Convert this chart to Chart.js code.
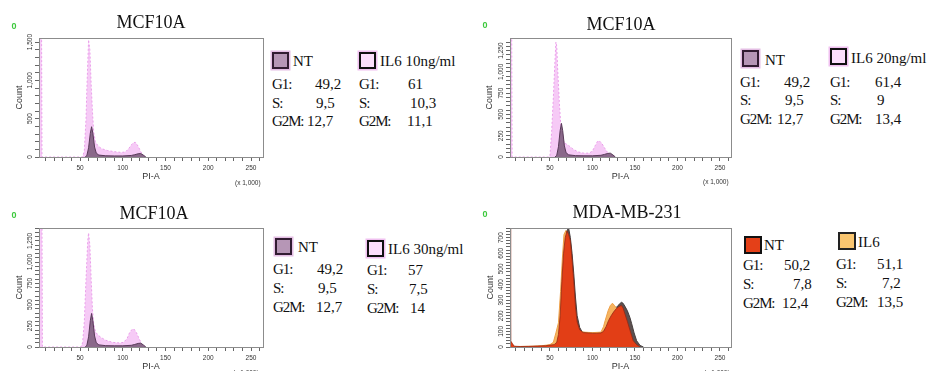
<!DOCTYPE html>
<html>
<head>
<meta charset="utf-8">
<script src="https://cdn.jsdelivr.net/npm/chart.js@4.4.1/dist/chart.umd.min.js"></script>
<style>
  html, body { margin: 0; padding: 0; background: #fff; overflow: hidden; }
  body { width: 928px; height: 371px; position: relative; font-family: "Liberation Serif", "Times New Roman", serif; }
  canvas { position: absolute; }
  .t { position: absolute; white-space: nowrap; color: #111; }
  .title { font-size: 18px; line-height: 22px; transform: translateX(-50%); }
  .leg { font-size: 15px; line-height: 20px; }
  .phase { letter-spacing: -1.1px; }
  .zero { font: bold 9px "Liberation Sans", Arial, sans-serif; line-height: 10px; color: #3cc83c; transform: translateX(-50%); }
  .unit { font: 6.5px "Liberation Sans", Arial, sans-serif; line-height: 8px; color: #333; }
  .sw { position: absolute; box-sizing: border-box; border: 2.5px solid #111; }
</style>
</head>
<body>
<canvas id="p1" width="270" height="160" style="left:0;top:28px"></canvas>
<canvas id="p2" width="270" height="160" style="left:470px;top:28px"></canvas>
<canvas id="p3" width="270" height="160" style="left:0;top:218px"></canvas>
<canvas id="p4" width="270" height="160" style="left:470px;top:218px"></canvas>
<script>
// PI-A bins (x 1,000) and event counts per histogram

// MCF10A untreated (same control in the three MCF10A panels)
const mcfNtX = [56, 58, 60, 62, 63.5, 65, 67, 69, 72, 80, 90, 100, 110, 114, 118, 121, 124, 127];
const mcfNtY = [0, 20, 120, 310, 395, 310, 130, 50, 25, 16, 14, 14, 20, 30, 42, 45, 25, 0];

// MCF10A + IL6 10ng/ml
const il6_10X = [2, 5, 5.5, 53, 55, 57, 58, 60, 61.5, 63, 64.5, 66, 68, 71, 75, 82, 90, 98, 103, 107, 110, 113, 115, 118, 121, 124, 126];
const il6_10Y = [1700, 1700, 0, 0, 80, 500, 900, 1530, 1400, 950, 600, 320, 200, 145, 110, 85, 70, 60, 65, 110, 160, 190, 190, 140, 70, 20, 0];

// MCF10A + IL6 20ng/ml
const il6_20X = [3, 5, 5.5, 49, 50, 52, 54, 56, 57, 58, 59, 61, 63, 65, 68, 72, 77, 83, 90, 96, 100, 103, 106, 108, 111, 115, 119, 123];
const il6_20Y = [1500, 1500, 0, 0, 10, 300, 700, 1150, 1350, 1300, 1050, 650, 330, 210, 160, 135, 95, 60, 45, 45, 70, 130, 185, 190, 160, 95, 35, 0];

// MCF10A + IL6 30ng/ml
const il6_30X = [2, 5.5, 6, 51, 53, 55, 57, 59, 60, 61.5, 63, 64.5, 66, 68, 71, 75, 80, 88, 96, 101, 105, 108, 111, 113, 116, 119, 122, 126];
const il6_30Y = [1500, 1500, 0, 0, 50, 300, 800, 1250, 1345, 1200, 800, 450, 270, 180, 140, 110, 80, 55, 48, 55, 100, 170, 210, 212, 170, 100, 40, 0];

// MDA-MB-231 untreated
const mdaNtX = [3, 3.5, 4, 6, 8, 15, 25, 35, 45, 50, 55, 58, 60, 62, 64, 66, 68, 70, 72, 74, 76, 78, 80, 82, 85, 89, 95, 100, 105, 110, 113, 116, 119, 122, 125, 128, 131, 134, 136, 138, 141, 144, 146, 148, 152, 156];
const mdaNtY = [800, 800, 40, 20, 5, 3, 4, 6, 8, 12, 15, 30, 80, 200, 420, 600, 700, 742, 720, 680, 560, 420, 260, 160, 110, 92, 90, 88, 88, 90, 100, 130, 170, 200, 225, 245, 258, 266, 250, 215, 165, 110, 75, 40, 15, 0];

// MDA-MB-231, dark overlay visible behind the untreated trace
const mdaDarkX = [56, 60, 64, 67, 70, 72, 74, 76, 78, 80, 82, 85, 88, 95, 105, 112, 115, 118, 122, 126, 130, 134, 136, 138, 141, 144, 146, 149, 152, 156, 160];
const mdaDarkY = [0, 40, 300, 580, 745, 760, 700, 600, 470, 320, 200, 125, 95, 90, 88, 92, 110, 150, 205, 240, 265, 286, 280, 262, 233, 190, 152, 90, 40, 10, 0];

// MDA-MB-231 + IL6
const mdaIl6X = [3, 4, 6, 10, 20, 30, 40, 46, 50, 54, 57, 60, 62.5, 64.5, 66.5, 68.8, 70, 72, 74, 76, 78, 80, 82, 85, 90, 100, 110, 113, 115, 118.5, 121, 123.5, 126, 130, 134, 138, 142, 146, 150, 154];
const mdaIl6Y = [30, 20, 5, 3, 4, 5, 8, 12, 15, 30, 90, 155, 355, 558, 720, 745, 730, 650, 540, 420, 290, 180, 120, 100, 95, 92, 95, 130, 170, 233, 265, 280, 265, 235, 200, 150, 95, 45, 15, 0];

// axis ticks
const xTickVals = [10, 20, 30, 40, 50, 60, 70, 80, 90, 100, 110, 120, 130, 140, 150, 160, 170, 180, 190, 200, 210, 220, 230, 240, 250, 260];
const xLabels = [50, 100, 150, 200, 250];
const yLabels1500 = [0, 500, 1000, 1500];
const yLabels1250 = [0, 250, 500, 750, 1000, 1250];
const yLabels700 = [0, 100, 200, 300, 400, 500, 600, 700];

// legend content
const panelTitles = ['MCF10A', 'MCF10A', 'MCF10A', 'MDA-MB-231'];
const phases = ['G1:', 'S:', 'G2M:'];
const groupNames = ['NT', 'IL6 10ng/ml', 'IL6 20ng/ml', 'IL6 30ng/ml', 'IL6'];
const mcfNtPct = [49.2, 9.5, 12.7];
const il6_10Pct = [61, 10.3, 11.1];
const il6_20Pct = [61.4, 9, 13.4];
const il6_30Pct = [57, 7.5, 14];
const mdaNtPct = [50.2, 7.8, 12.4];
const mdaIl6Pct = [51.1, 7.2, 13.5];

const SANS = '"Liberation Sans", Arial, sans-serif';

const pinkFill = 'rgb(246,202,246)', pinkLine = 'rgb(234,160,234)';
const mauveFill = 'rgb(138,104,138)', mauveLine = 'rgb(88,58,88)';
const redFill = 'rgb(226,62,22)', redLine = 'rgb(150,40,20)';
const orangeFill = 'rgb(246,180,96)', orangeLine = 'rgb(238,160,72)';
const darkFill = 'rgb(92,80,80)', darkLine = 'rgb(70,62,62)';

function series(xs, ys) {
  return xs.map((x, i) => ({ x: x, y: ys[i] }));
}

function fmt(v) {
  return String(v).replace('.', ',');
}

// frame round the plot area plus rotated count labels
const facsAxes = {
  id: 'facsAxes',
  afterDraw(chart, args, opts) {
    const { ctx, chartArea: a } = chart;
    const y = chart.scales.y;
    ctx.save();
    ctx.strokeStyle = '#8c8c8c';
    ctx.lineWidth = 1;
    ctx.strokeRect(Math.round(a.left) + 0.5, Math.round(a.top) + 0.5, Math.round(a.right - a.left), Math.round(a.bottom - a.top));
    ctx.fillStyle = '#333';
    ctx.font = '6.5px ' + SANS;
    ctx.textAlign = 'center';
    ctx.textBaseline = 'middle';
    opts.values.forEach(v => {
      ctx.save();
      ctx.translate(a.left - 8.5, y.getPixelForValue(v));
      ctx.rotate(-Math.PI / 2);
      ctx.fillText(v.toLocaleString('en-US'), 0, 0);
      ctx.restore();
    });
    ctx.restore();
  }
};

function histPanel(id, sets, opt) {
  const tickGrid = { drawOnChartArea: false, drawTicks: true, tickLength: 4, color: '#666', lineWidth: 1 };
  return new Chart(document.getElementById(id), {
    type: 'line',
    data: {
      datasets: sets.map(s => ({
        data: s.data,
        fill: 'origin',
        backgroundColor: s.fill,
        borderColor: s.line,
        borderWidth: s.width || 1,
        borderDash: s.dash || [],
        pointRadius: 0,
        tension: 0
      }))
    },
    options: {
      responsive: false,
      animation: false,
      layout: { padding: { top: opt.padTop, right: opt.padRight, left: 0, bottom: 0 } },
      plugins: {
        legend: { display: false },
        tooltip: { enabled: false },
        facsAxes: { values: opt.yLabels }
      },
      scales: {
        x: {
          type: 'linear',
          min: opt.xMin,
          max: opt.xMax,
          afterBuildTicks: s => { s.ticks = xTickVals.map(v => ({ value: v })); },
          afterFit: s => { s.height = 31; },
          grid: tickGrid,
          border: { display: false },
          ticks: {
            autoSkip: false, maxRotation: 0, padding: 3, color: '#333',
            font: { size: 6.5, family: SANS },
            callback: v => xLabels.includes(v) ? String(v) : ''
          },
          title: { display: true, text: 'PI-A', color: '#333', font: { size: 9, family: SANS }, padding: { top: 0, bottom: 6 } }
        },
        y: {
          min: 0,
          max: opt.yMax,
          afterBuildTicks: s => {
            const t = [];
            for (let v = 0; v <= opt.yMax; v += opt.yMinor) t.push({ value: v });
            s.ticks = t;
          },
          afterFit: s => { s.width = opt.axisW; },
          grid: tickGrid,
          border: { display: false },
          ticks: { autoSkip: false, callback: () => '' },
          title: { display: true, text: 'Count', color: '#333', font: { size: 9, family: SANS }, padding: { top: opt.countPad, bottom: 0 } }
        }
      }
    },
    plugins: [facsAxes]
  });
}

// first dataset is drawn on top
histPanel('p1', [
  { data: series(mcfNtX, mcfNtY), fill: mauveFill, line: mauveLine },
  { data: series(il6_10X, il6_10Y), fill: pinkFill, line: pinkLine, dash: [2, 2] }
], { padTop: 4, padRight: 7, axisW: 39, countPad: 14, xMin: 2, xMax: 264, yMax: 1550, yMinor: 100, yLabels: yLabels1500 });

histPanel('p2', [
  { data: series(mcfNtX, mcfNtY), fill: mauveFill, line: mauveLine },
  { data: series(il6_20X, il6_20Y), fill: pinkFill, line: pinkLine, dash: [2, 2] }
], { padTop: 4, padRight: 9, axisW: 40, countPad: 14, xMin: 3, xMax: 263, yMax: 1395, yMinor: 50, yLabels: yLabels1250 });

histPanel('p3', [
  { data: series(mcfNtX, mcfNtY), fill: mauveFill, line: mauveLine },
  { data: series(il6_30X, il6_30Y), fill: pinkFill, line: pinkLine, dash: [2, 2] }
], { padTop: 3, padRight: 7, axisW: 39, countPad: 14, xMin: 2, xMax: 264, yMax: 1400, yMinor: 50, yLabels: yLabels1250 });

histPanel('p4', [
  { data: series(mdaNtX, mdaNtY), fill: redFill, line: redLine, width: 0.8 },
  { data: series(mdaIl6X, mdaIl6Y), fill: orangeFill, line: orangeLine },
  { data: series(mdaDarkX, mdaDarkY), fill: darkFill, line: darkLine }
], { padTop: 4, padRight: 9, axisW: 40, countPad: 15, xMin: 3, xMax: 263, yMax: 760, yMinor: 20, yLabels: yLabels700 });

// text placed by left edge and vertical centre
function put(text, x, cy, cls, lh) {
  const d = document.createElement('div');
  d.className = 't ' + cls;
  d.textContent = text;
  d.style.left = x + 'px';
  d.style.top = (cy - lh / 2) + 'px';
  document.body.appendChild(d);
  return d;
}

function swatch(x, y, size, fill, border, halo) {
  const d = document.createElement('div');
  d.className = 'sw';
  d.style.left = x + 'px';
  d.style.top = y + 'px';
  d.style.width = size + 'px';
  d.style.height = size + 'px';
  d.style.background = fill;
  d.style.borderColor = border;
  if (halo) d.style.boxShadow = '0 0 0 1.5px ' + halo;
  document.body.appendChild(d);
}

// titles, event markers and axis multipliers
const titlePos = [[151, 22], [621, 24], [154, 213], [627, 212]];
const zeroPos = [[14, 26], [485, 25], [14, 215], [485, 214]];
const unitPos = [[235, 183], [703, 182], [233, 373], [704, 373]];
panelTitles.forEach((t, i) => {
  put(t, titlePos[i][0], titlePos[i][1], 'title', 22);
  put('0', zeroPos[i][0], zeroPos[i][1], 'zero', 10);
  put('(x 1,000)', unitPos[i][0], unitPos[i][1], 'unit', 8);
});

// legend columns: swatch, group name, then G1 / S / G2M percentages
const legendCols = [
  { name: groupNames[0], pct: mcfNtPct, fill: 'rgb(182,150,182)', border: 'rgb(50,28,50)', halo: 'rgb(228,190,228)', size: 17,
    sw: [272, 52], nameX: 293, nameCy: 61, phaseX: 272, rows: [84, 102.5, 120.5], valX: [315, 316, 307] },
  { name: groupNames[1], pct: il6_10Pct, fill: 'rgb(252,222,252)', border: '#111', halo: 'rgb(240,192,240)', size: 17,
    sw: [359, 52], nameX: 380, nameCy: 61, phaseX: 359, rows: [84, 102.5, 120.5], valX: [408, 410, 407] },
  { name: groupNames[0], pct: mcfNtPct, fill: 'rgb(182,150,182)', border: 'rgb(50,28,50)', halo: 'rgb(228,190,228)', size: 17,
    sw: [742, 50], nameX: 765, nameCy: 60, phaseX: 740, rows: [82, 100, 119], valX: [784, 785, 777] },
  { name: groupNames[2], pct: il6_20Pct, fill: 'rgb(252,222,252)', border: '#111', halo: 'rgb(240,192,240)', size: 17,
    sw: [830, 48], nameX: 851, nameCy: 58, phaseX: 830, rows: [82, 100, 119], valX: [875, 877, 875] },
  { name: groupNames[0], pct: mcfNtPct, fill: 'rgb(182,150,182)', border: 'rgb(50,28,50)', halo: 'rgb(228,190,228)', size: 17,
    sw: [275, 238], nameX: 298, nameCy: 247, phaseX: 273, rows: [268.5, 288, 307], valX: [317, 318, 316] },
  { name: groupNames[3], pct: il6_30Pct, fill: 'rgb(252,222,252)', border: '#111', halo: 'rgb(240,192,240)', size: 17,
    sw: [367, 240], nameX: 388, nameCy: 249, phaseX: 367, rows: [269.5, 288.5, 307.5], valX: [408, 409, 410] },
  { name: groupNames[0], pct: mdaNtPct, fill: 'rgb(228,64,24)', border: '#111', halo: null, size: 18,
    sw: [744, 236], nameX: 764, nameCy: 245, phaseX: 743, rows: [265, 283.5, 302.5], valX: [784, 793, 782] },
  { name: groupNames[4], pct: mdaIl6Pct, fill: 'rgb(250,198,112)', border: '#222', halo: null, size: 18,
    sw: [838, 232], nameX: 858, nameCy: 242, phaseX: 836, rows: [263.5, 282.5, 301.5], valX: [877, 882, 877] }
];

legendCols.forEach(c => {
  swatch(c.sw[0], c.sw[1], c.size, c.fill, c.border, c.halo);
  put(c.name, c.nameX, c.nameCy, 'leg', 20);
  phases.forEach((p, i) => {
    put(p, c.phaseX, c.rows[i], 'leg phase', 20);
    put(fmt(c.pct[i]), c.valX[i], c.rows[i], 'leg', 20);
  });
});
</script>
</body>
</html>
